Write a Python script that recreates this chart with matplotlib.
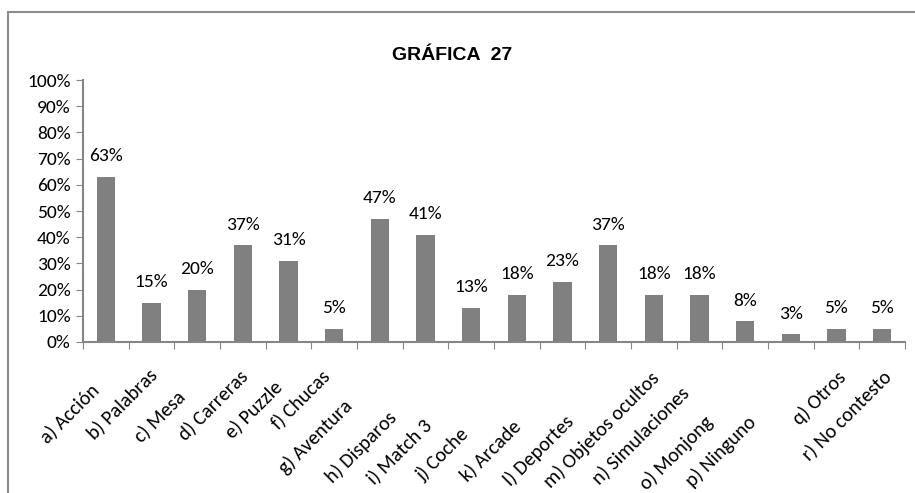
import matplotlib
matplotlib.use("Agg")
import matplotlib.pyplot as plt
from matplotlib.patches import Rectangle
from matplotlib.transforms import ScaledTranslation
from matplotlib.ticker import PercentFormatter, MultipleLocator

# categories and percentages
categories = ["a) Acción", "b) Palabras", "c) Mesa", "d) Carreras", "e) Puzzle",
              "f) Chucas", "g) Aventura", "h) Disparos", "i) Match 3", "j) Coche",
              "k) Arcade", "l) Deportes", "m) Objetos ocultos", "n) Simulaciones",
              "o) Monjong", "p) Ninguno", "q) Otros", "r) No contesto"]
values = [63, 15, 20, 37, 31, 5, 47, 41, 13, 18, 23, 37, 18, 18, 8, 3, 5, 5]
title = "GRÁFICA  27"

# where Excel put the end of each rotated label (pixels from tick / axis line)
label_dx = [-16, -4, -22, -5, -16, -14, -37, -38, -49, -57, -51, -44, -4, -20, -41, -44, 0, 0]
label_dy = [38, 23, 45, 25, 35, 25, 55, 66, 74, 83, 75, 70, 27, 41, 71, 71, 26, 25]

# Carlito has the same metrics as Calibri (Excel default)
plt.rcParams['font.family'] = ['Carlito', 'DejaVu Sans']

fig = plt.figure(figsize=(9.15, 4.93), dpi=100)
ax = fig.add_axes([0.0907, 0.3063, 0.8983, 0.5314])

x = range(len(values))
ax.bar(x, values, width=0.4, color="#808080")

# data labels on top of the bars
for i, v in enumerate(values):
    ax.annotate(f"{v}%", (i, v), xytext=(0, 9), textcoords="offset points",
                ha="center", va="bottom", fontsize=14)

ax.set_xlim(-0.5, len(values) - 0.5)
ax.set_ylim(0, 100)
ax.yaxis.set_major_locator(MultipleLocator(10))
ax.yaxis.set_major_formatter(PercentFormatter(decimals=0))

# tick marks between categories, labels drawn by hand below
ax.set_xticks([i - 0.5 for i in range(len(values) + 1)])
ax.set_xticklabels([])
ax.tick_params(axis="x", length=5, color="#868686")
ax.tick_params(axis="y", length=5, color="#868686", labelsize=14, pad=4)

for i, name in enumerate(categories):
    off = ScaledTranslation(label_dx[i] / 100, -label_dy[i] / 100, fig.dpi_scale_trans)
    ax.text(i, 0, name, transform=ax.get_xaxis_transform() + off,
            rotation=45, rotation_mode="anchor", ha="right", va="top", fontsize=14.5)

for s in ["top", "right"]:
    ax.spines[s].set_visible(False)
for s in ["left", "bottom"]:
    ax.spines[s].set_color("#868686")
    ax.spines[s].set_linewidth(1.5)

fig.text(0.494, 0.888, title, ha="center", va="center", fontsize=14,
         fontweight="bold", family=["Liberation Sans", "DejaVu Sans"])

# outer frame of the chart area
fig.patches.append(Rectangle((8 / 915, -0.1), 1.2, 1 - 12 / 493 + 0.1,
                             transform=fig.transFigure, fill=False,
                             edgecolor="#8c8c8c", linewidth=1.5))

fig.savefig("out.png", dpi=100)
